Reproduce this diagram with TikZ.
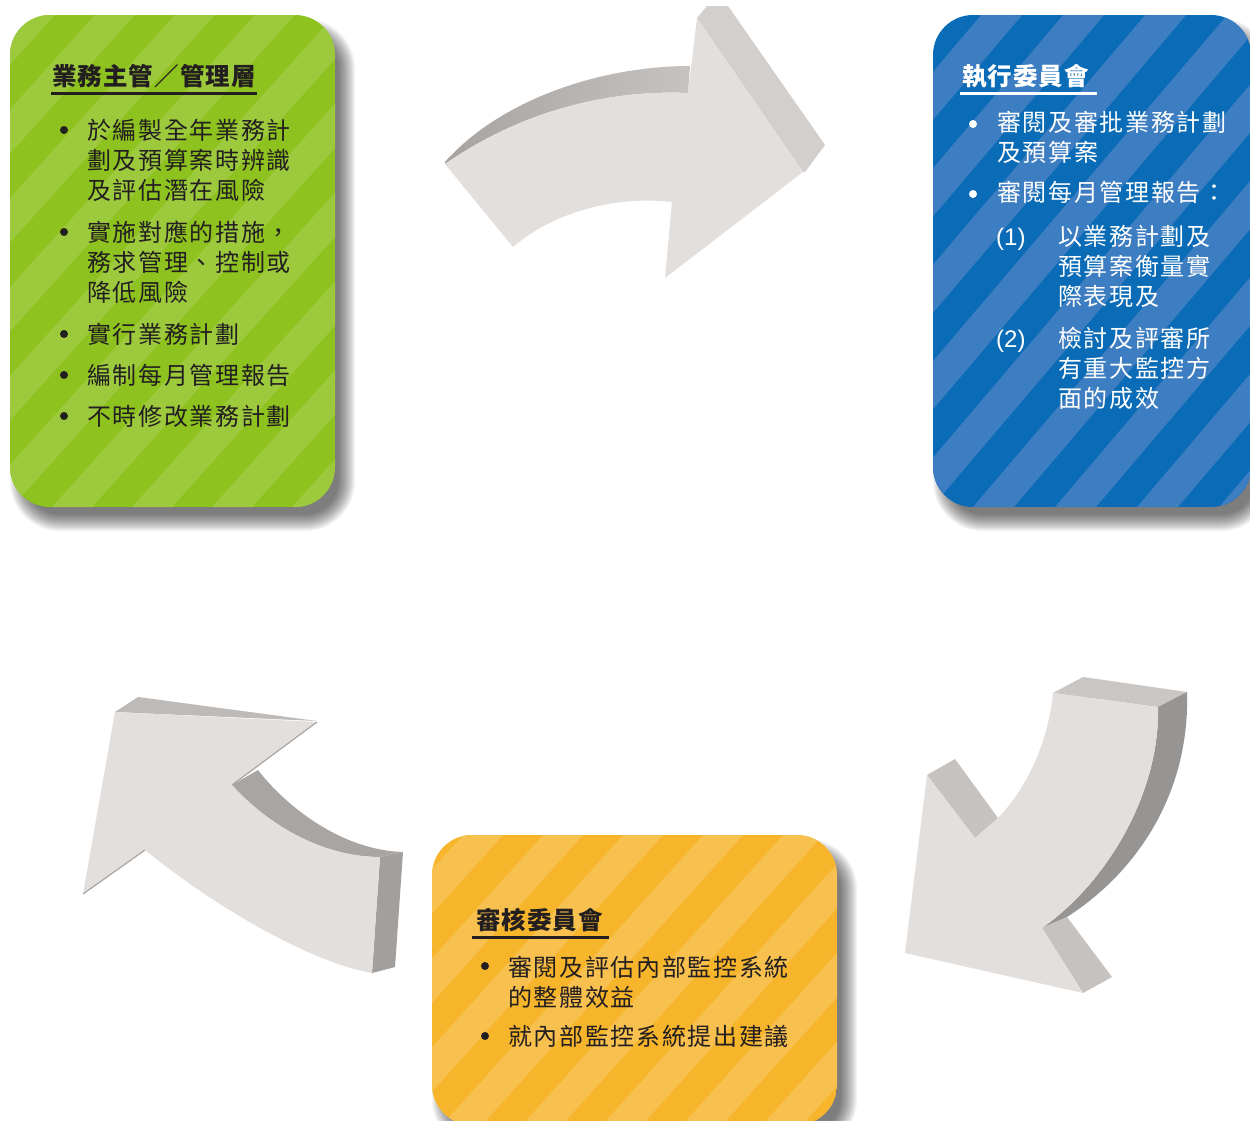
\documentclass[tikz,border=0pt]{standalone}
\usepackage{fontspec}
\newfontfamily\cjkbody{Noto Sans CJK TC}[LetterSpace=7]
\newfontfamily\cjktitle{Noto Sans CJK TC}[LetterSpace=4.5]
\newfontfamily\latinfont{Liberation Sans}
\definecolor{gdark}{HTML}{8DC21F}
\definecolor{glight}{HTML}{9DCA3D}
\definecolor{bdark}{HTML}{0A6BB6}
\definecolor{blight}{HTML}{3D7DC1}
\definecolor{odark}{HTML}{F7B52B}
\definecolor{olight}{HTML}{F8C04E}
\definecolor{darktext}{HTML}{231F20}
\definecolor{arface}{HTML}{E3DFDD}
\definecolor{extA}{HTML}{A7A3A1}
\definecolor{extB}{HTML}{C6C2C0}
\definecolor{headside}{HTML}{D3CFCC}
\definecolor{tailtop}{HTML}{CAC6C4}
\definecolor{headface}{HTML}{C6C2C0}
\definecolor{outerext}{HTML}{979593}
\definecolor{innerext}{HTML}{A9A5A3}
\definecolor{tailend}{HTML}{A29F9D}
\definecolor{headtop}{HTML}{BEBAB8}
\newcommand\mkshadow[4]{%
  \foreach \s in {10,8.5,...,-6.5}{%
    \pgfmathsetmacro\rr{40+\s}%
    \fill[black, fill opacity=0.055, rounded corners=\rr pt]
      ({#1+10-\s},{#2+14-\s}) rectangle ({#3+10+\s},{#4+14+\s});
  }%
}
\newcommand\mkstripes[9]{% x1 y1 x2 y2 base light start period cot
  \begin{scope}
    \clip[rounded corners=40pt] (#1,#2) rectangle (#3,#4);
    \fill[#5] (#1,#2) rectangle (#3,#4);
    \foreach \k in {-9,...,9}{%
      \fill[#6] ({#7+#8*\k},#4) -- ++({#8/2},0) -- ++({(#4-#2)*#9},{-(#4-#2)}) -- ++({-#8/2},0) -- cycle;
    }%
  \end{scope}
}
\begin{document}
\begin{tikzpicture}[x=1pt,y=-1pt,
  txt/.style={inner sep=0pt, anchor=base west, font=\cjkbody\fontsize{24}{28}\selectfont},
  ttl/.style={inner sep=0pt, anchor=base west, font=\cjktitle\bfseries\fontsize{24.5}{28}\selectfont},
  num/.style={inner sep=0pt, anchor=base west, font=\latinfont\fontsize{24}{28}\selectfont},
  face/.style={fill=arface}]
\useasboundingbox (0,0) rectangle (1250,1120);
\fill[white] (0,0) rectangle (1250,1120);

% shadows
\mkshadow{10}{15}{335}{507}
\mkshadow{933}{15}{1251}{507}
\mkshadow{432}{835}{837}{1125}

% boxes
\mkstripes{10}{15}{335}{507}{gdark}{glight}{52}{80}{0.9}
\mkstripes{933}{15}{1251}{507}{bdark}{blight}{973}{82}{0.85}
\mkstripes{432}{835}{837}{1125}{odark}{olight}{522}{80}{0.9}

% green box text
\node[ttl, text=darktext] (gT) at (52,85) {業務主管／管理層};
\draw[darktext, line width=2.2pt] (51,93.5) -- (257,93.5);
\begin{scope}[darktext]
\fill (64,130) circle (4);
\fill (64,232) circle (4);
\fill (64,334) circle (4);
\fill (64,375) circle (4);
\fill (64,416) circle (4);
\end{scope}
\node[txt, text=darktext] (g1) at (87,139) {於編製全年業務計};
\node[txt, text=darktext] (g2) at (87,169) {劃及預算案時辨識};
\node[txt, text=darktext] (g3) at (87,199) {及評估潛在風險};
\node[txt, text=darktext] (g4) at (87,241) {實施對應的措施，};
\node[txt, text=darktext] (g5) at (87,271) {務求管理、控制或};
\node[txt, text=darktext] (g6) at (87,301) {降低風險};
\node[txt, text=darktext] (g7) at (87,343) {實行業務計劃};
\node[txt, text=darktext] (g8) at (87,384) {編制每月管理報告};
\node[txt, text=darktext] (g9) at (87,425) {不時修改業務計劃};

% blue box text
\node[ttl, text=white] (bT) at (962,85) {執行委員會};
\draw[white, line width=2.2pt] (960,93.5) -- (1097,93.5);
\fill[white] (973,124) circle (4);
\fill[white] (973,194) circle (4);
\node[txt, text=white] (b1) at (997,131) {審閱及審批業務計劃};
\node[txt, text=white] (b2) at (997,161) {及預算案};
\node[txt, text=white] (b3) at (997,201) {審閱每月管理報告：};
\node[num, text=white] (n1) at (996,245) {(1)};
\node[txt, text=white] (b4) at (1058,245) {以業務計劃及};
\node[txt, text=white] (b5) at (1058,275) {預算案衡量實};
\node[txt, text=white] (b6) at (1058,305) {際表現及};
\node[num, text=white] (n2) at (996,347) {(2)};
\node[txt, text=white] (b7) at (1058,347) {檢討及評審所};
\node[txt, text=white] (b8) at (1058,377) {有重大監控方};
\node[txt, text=white] (b9) at (1058,407) {面的成效};

% orange box text
\node[ttl, text=darktext] (oT) at (476,929) {審核委員會};
\draw[darktext, line width=2.2pt] (472,937.5) -- (609,937.5);
\fill[darktext] (485,966) circle (4);
\fill[darktext] (485,1036) circle (4);
\node[txt, text=darktext] (o1) at (508,976) {審閱及評估內部監控系統};
\node[txt, text=darktext] (o2) at (508,1006) {的整體效益};
\node[txt, text=darktext] (o3) at (508,1045) {就內部監控系統提出建議};

% arrow 1 (top, to the right)
\shade[left color=extA, right color=extB]
  (445,164) .. controls (530,105) and (620,90) .. (688,93) -- (690,66)
  .. controls (600,66) and (500,100) .. (445,162) -- cycle;
\fill[headside] (697,18) -- (707,6) -- (728,6) -- (825,145) -- (805,172) -- (803,172) -- cycle;
\fill[face] (445,164) -- (513,247) .. controls (550,215) and (610,195) .. (672,202)
  -- (665,278) -- (803,172) -- (697,18) -- (688,93)
  .. controls (620,90) and (530,105) .. (445,164) -- cycle;

% arrow 2 (right, down-left)
\fill[tailtop] (1053,693) -- (1083,677) -- (1187,692) -- (1158,707) -- cycle;
\fill[outerext] (1158,707) -- (1187,692) .. controls (1190,790) and (1140,870) .. (1067,917)
  -- (1042,928) .. controls (1110,880) and (1160,790) .. (1158,707) -- cycle;
\fill[headface] (927,775) -- (955,759) -- (998,818) -- (975,838) -- cycle;
\fill[headface] (1042,928) -- (1067,917) -- (1112,977) -- (1083,993) -- cycle;
\fill[face] (1053,693) -- (1158,707) .. controls (1160,790) and (1110,880) .. (1042,928)
  -- (1083,993) -- (905,953) -- (927,775) -- (975,838) -- (998,818)
  .. controls (1025,790) and (1048,745) .. (1053,693) -- cycle;

% arrow 3 (left, up-left)
\fill[headtop] (115,712) -- (138,697) -- (317,721) -- cycle;
\fill[innerext] (232,785) -- (258,770) .. controls (285,805) and (340,850) .. (403,852)
  -- (380,857) .. controls (320,857) and (265,822) .. (232,785) -- cycle;
\fill[tailend] (380,857) -- (403,852) -- (395,967) -- (372,973) -- cycle;
\fill[face] (83,894) -- (115,712) -- (317,722) -- (232,785)
  .. controls (265,822) and (320,857) .. (380,857) -- (372,973)
  .. controls (300,960) and (200,895) .. (145,850) -- cycle;
\draw[innerext, line width=1.2pt] (317,722) -- (232,785);
\draw[innerext, line width=1.2pt] (83,894) -- (145,850);
\end{tikzpicture}
\end{document}
